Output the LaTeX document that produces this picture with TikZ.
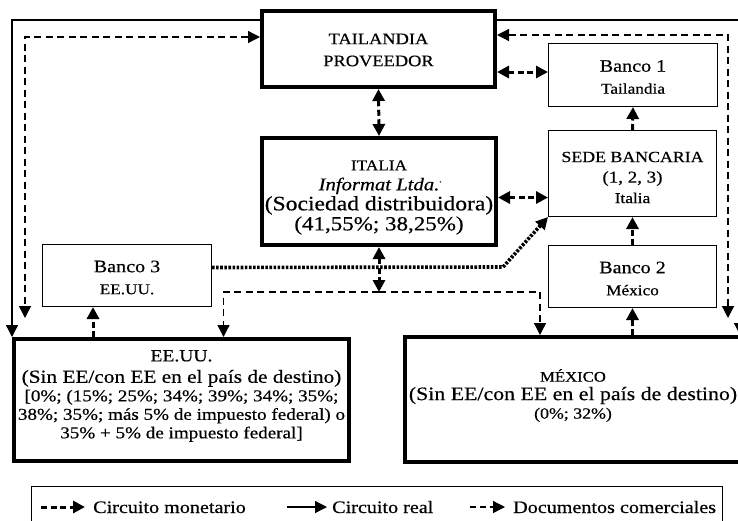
\documentclass[tikz,border=0pt]{standalone}
\usepackage{fontspec}
\setmainfont{Liberation Serif}[FakeStretch=1.15,FakeBold=0.5]
\usetikzlibrary{arrows.meta}
\newcommand{\fz}[2]{\fontsize{#1}{#2}\selectfont}

\begin{document}
\begin{tikzpicture}[x=1pt,y=-1pt,
  >={Triangle[length=12pt,width=12pt]},
  box/.style={draw, line width=1.3pt, inner sep=0pt},
  heavybox/.style={draw, line width=3.6pt, inner sep=0pt},
  txt/.style={align=center, inner sep=0pt},
  money/.style={line width=3pt, dash pattern=on 6pt off 3.5pt},
  real/.style={line width=1.3pt},
  docs/.style={line width=1.3pt, dash pattern=on 7pt off 4.5pt},
  dotline/.style={line width=3.6pt, dash pattern=on 2.6pt off 1.5pt},
  legtext/.style={anchor=base west, inner sep=0pt, font=\fz{17.5}{20}}
]
\useasboundingbox (0,0) rectangle (738,520);

% frames of the main entities
\node[heavybox, minimum width=233.4pt, minimum height=76.4pt] (tai) at (378.5,49) {};
\node[heavybox, minimum width=234.4pt, minimum height=107.4pt] (ita) at (379,191.5) {};
\node[heavybox, minimum width=335.4pt, minimum height=122.4pt] (eeuu) at (181.5,400) {};
\node[heavybox, minimum width=336.4pt, minimum height=125.4pt] (mex) at (573,399.5) {};

% frames of the banks
\node[box, minimum width=168.7pt, minimum height=62.7pt] (b1) at (633,75) {};
\node[box, minimum width=167.7pt, minimum height=85.7pt] (sede) at (632.5,173.5) {};
\node[box, minimum width=167.7pt, minimum height=61.7pt] (b2) at (632.5,276.5) {};
\node[box, minimum width=168.7pt, minimum height=61.7pt] (b3) at (127,275.5) {};

% texts of the entities
\node[txt, font=\fz{16}{22}] (taitxt) at ([yshift=-1pt]tai.center) {TAILANDIA\\PROVEEDOR};
\node[txt, font=\fz{20}{20}] (itatxt) at ([yshift=-6pt]ita.center)
  {\fz{15}{20}ITALIA\\
   \fz{18}{20}\itshape Informat Ltda.\rlap{\raisebox{0.45em}{\fz{9}{9}.}}\\
   \fz{20.5}{20}(Sociedad distribuidora)\\
   (41,55\%; 38,25\%)};
\node[txt, font=\fz{16.6}{18.5}] (eeuutxt) at ([yshift=4pt]eeuu.center)
  {\fz{17}{18.5}EE.UU.\\[3pt]
   \fz{18.5}{18.5}(Sin EE/con EE en el país de destino)\\
   {[}0\%; (15\%; 25\%; 34\%; 39\%; 34\%; 35\%;\\
   38\%; 35\%; más 5\% de impuesto federal) o\\
   35\% + 5\% de impuesto federal]};
\node[txt, font=\fz{15.5}{18.5}] (mextxt) at ([yshift=4pt]mex.center)
  {\fz{14.5}{18.5}MÉXICO\\
   \fz{19}{18.5}(Sin EE/con EE en el país de destino)\\
   (0\%; 32\%)};

% texts of the banks
\node[txt, font=\fz{15}{22}] (b1txt) at ([yshift=-2pt]b1.center) {\fz{17.5}{22}Banco 1\\Tailandia};
\node[txt, font=\fz{15}{20.5}] (sedetxt) at ([yshift=-4pt]sede.center)
  {\fz{15.5}{20.5}SEDE BANCARIA\\\fz{16.5}{20.5}(1, 2, 3)\\Italia};
\node[txt, font=\fz{15}{22}] (b2txt) at ([yshift=-2pt]b2.center) {\fz{17.5}{22}Banco 2\\México};
\node[txt, font=\fz{15}{22}] (b3txt) at ([yshift=-2pt]b3.center) {\fz{17.5}{22}Banco 3\\EE.UU.};

% real flow of goods
\draw[real,->] ([yshift=-11pt]tai.north west) -| (eeuu.north west);
\draw[real,->] ([yshift=-11pt]tai.north east) -| ([xshift=-3pt]mex.north east);

% commercial documents
\coordinate (dl) at (25,318);
\coordinate (dr) at (728,318);
\coordinate (dj) at (379,292);
\draw[docs,<->] ([yshift=12pt]tai.west) -| (dl);
\draw[docs,<->] ([yshift=14pt]tai.east) -| (dr);
\draw[docs,->] (dj) -| ([xshift=42pt]eeuu.north);
\draw[docs,->] (dj) -| ([xshift=-33pt]mex.north);

% money flow
\draw[money,<->] ([yshift=3pt]b1.west -| tai.east) -- ([yshift=3pt]b1.west);
\draw[money,<->] (tai.south) -- (ita.north);
\draw[money,->] (sede.north) -- (b1.south);
\draw[money,->] (b2.north) -- (sede.south);
\draw[money,->] (b2.south |- mex.north) -- (b2.south);
\draw[money,->] ([xshift=-34pt]b3.south |- eeuu.north) -- ([xshift=-34pt]b3.south);
\draw[money,<->] ([yshift=-24pt]sede.west -| ita.east) -- ([yshift=-24pt]sede.west);
\draw[money,<->] (ita.south) -- (dj);

% bank transfer route
\coordinate (bend) at (503,267);
\draw[dotline,->] ([yshift=8pt]b3.east) -- (bend) -- (sede.south west);

% legend
\node[box, minimum width=690.7pt, minimum height=42.7pt] (legend) at (377,508) {};
\coordinate (m1) at (41,507);  \coordinate (m2) at (85,507);
\coordinate (r1) at (287,507); \coordinate (r2) at (327,507);
\coordinate (d1) at (470,507); \coordinate (d2) at (505,507);
\draw[money,->] (m1) -- (m2);
\draw[real,->] (r1) -- (r2);
\draw[docs,dash pattern=on 6pt off 4pt,->] (d1) -- (d2);
\node[legtext] (lm) at (93,513) {Circuito monetario};
\node[legtext] (lr) at (332,513) {Circuito real};
\node[legtext] (ld) at (513,513) {Documentos comerciales};
\end{tikzpicture}
\end{document}
